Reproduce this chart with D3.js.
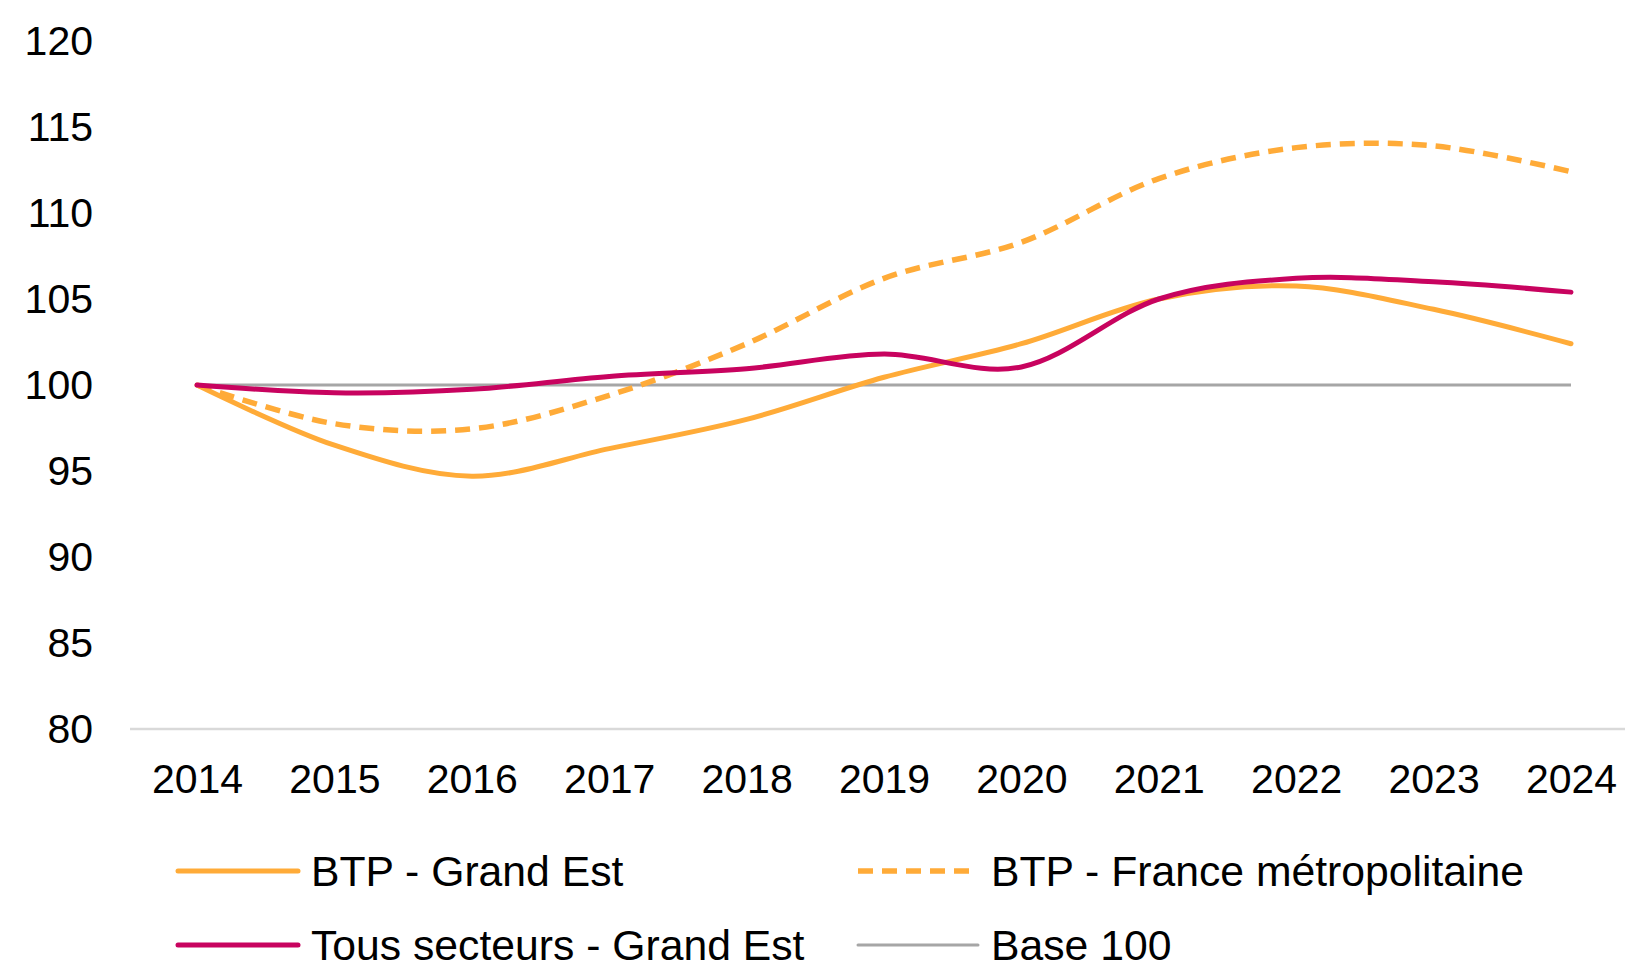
<!DOCTYPE html>
<html>
<head>
<meta charset="utf-8">
<script src="https://cdn.jsdelivr.net/npm/d3@7"></script>
<style>
  html, body { margin: 0; padding: 0; background: #fff; }
  svg { display: block; font-family: "Liberation Sans", Arial, sans-serif; }
</style>
</head>
<body>
<svg id="chart" width="1625" height="965"></svg>
<script>
const years = ["2014","2015","2016","2017","2018","2019","2020","2021","2022","2023","2024"];
const btpGrandEst = [100, 96.5, 94.7, 96.3, 98.0, 100.45, 102.4, 105.0, 105.75, 104.4, 102.4];
const btpFrance   = [100, 97.75, 97.45, 99.4, 102.4, 106.2, 108.3, 112.0, 113.8, 113.9, 112.4];
const tousSecteurs = [100, 99.55, 99.75, 100.5, 100.95, 101.8, 101.05, 105.0, 106.2, 106.0, 105.4];
const base100 = [100, 100, 100, 100, 100, 100, 100, 100, 100, 100, 100];
const yTicks = [80, 85, 90, 95, 100, 105, 110, 115, 120];
const seriesNames = ["BTP - Grand Est", "BTP - France métropolitaine", "Tous secteurs - Grand Est", "Base 100"];

const ORANGE = "#FFAB38", MAGENTA = "#C8035F", GREY = "#A6A6A6";

const svg = d3.select("#chart");
const x = d3.scalePoint().domain(years).range([197, 1571]);
const y = d3.scaleLinear().domain([80, 120]).range([729, 41]);

// Horizontal axis line
svg.append("line")
  .attr("x1", 130).attr("x2", 1625)
  .attr("y1", y(80)).attr("y2", y(80))
  .attr("stroke", "#D9D9D9").attr("stroke-width", 2.5);

// Y tick labels
const yAxis = d3.axisLeft(y).tickValues(yTicks).tickSize(0).tickPadding(0);
const gy = svg.append("g").attr("transform", "translate(93,-1)").call(yAxis);
gy.select(".domain").remove();
gy.selectAll("text").attr("font-size", 41).attr("fill", "#000")
  .attr("font-family", "Liberation Sans, Arial, sans-serif").attr("dy", "0.35em");

// X tick labels
const xAxis = d3.axisBottom(x).tickSize(0).tickPadding(0);
const gx = svg.append("g").attr("transform", "translate(0,779)").call(xAxis);
gx.select(".domain").remove();
gx.selectAll("text").attr("font-size", 41).attr("fill", "#000")
  .attr("font-family", "Liberation Sans, Arial, sans-serif").attr("dy", "0.35em");

const line = d3.line()
  .x((d, i) => x(years[i]))
  .y(d => y(d))
  .curve(d3.curveCardinal.tension(0));

// Base 100
svg.append("path").datum(base100).attr("d", d3.line().x((d,i)=>x(years[i])).y(d=>y(d)))
  .attr("fill", "none").attr("stroke", GREY).attr("stroke-width", 3);

// BTP France (dashed)
svg.append("path").datum(btpFrance).attr("d", line)
  .attr("fill", "none").attr("stroke", ORANGE).attr("stroke-width", 5.5)
  .attr("stroke-dasharray", "15,9");

// BTP Grand Est
svg.append("path").datum(btpGrandEst).attr("d", line)
  .attr("fill", "none").attr("stroke", ORANGE).attr("stroke-width", 5)
  .attr("stroke-linecap", "round");

// Tous secteurs
svg.append("path").datum(tousSecteurs).attr("d", line)
  .attr("fill", "none").attr("stroke", MAGENTA).attr("stroke-width", 5)
  .attr("stroke-linecap", "round");

// Legend
const legendItems = [
  {name: seriesNames[0], color: ORANGE, dash: null, w: 5, x0: 178, y0: 871},
  {name: seriesNames[1], color: ORANGE, dash: "15,9", w: 5.5, x0: 858, y0: 871},
  {name: seriesNames[2], color: MAGENTA, dash: null, w: 5, x0: 178, y0: 945},
  {name: seriesNames[3], color: GREY, dash: null, w: 3, x0: 858, y0: 945}
];
const lg = svg.append("g");
legendItems.forEach(it => {
  lg.append("line").attr("x1", it.x0).attr("x2", it.x0 + 120)
    .attr("y1", it.y0).attr("y2", it.y0)
    .attr("stroke", it.color).attr("stroke-width", it.w)
    .attr("stroke-dasharray", it.dash)
    .attr("stroke-linecap", it.dash ? "butt" : "round");
  lg.append("text").attr("x", it.x0 + 133).attr("y", it.y0).attr("dy", "0.35em")
    .attr("font-size", 42.7).attr("fill", "#000").text(it.name);
});
</script>
</body>
</html>
